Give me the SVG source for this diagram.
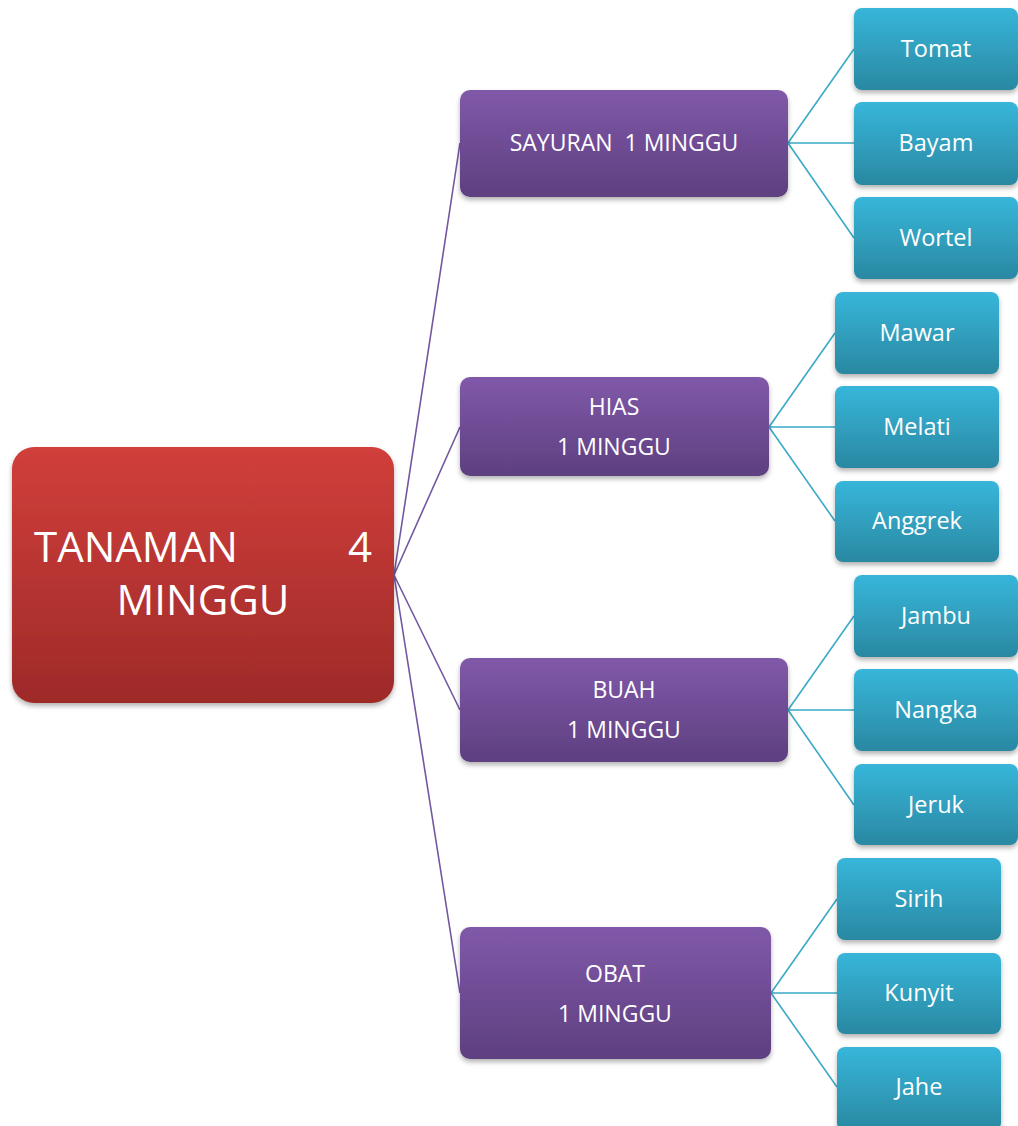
<svg xmlns="http://www.w3.org/2000/svg" width="1018" height="1126" viewBox="0 0 1018 1126">
<defs>
<linearGradient id="gRed" x1="0" y1="0" x2="0" y2="1"><stop offset="0" stop-color="#D13F3B"/><stop offset="1" stop-color="#9E2A28"/></linearGradient>
<linearGradient id="gPur" x1="0" y1="0" x2="0" y2="1"><stop offset="0" stop-color="#8059A9"/><stop offset="1" stop-color="#5E3F80"/></linearGradient>
<linearGradient id="gTeal" x1="0" y1="0" x2="0" y2="1"><stop offset="0" stop-color="#37B6DA"/><stop offset="1" stop-color="#2A88A2"/></linearGradient>
<filter id="sh" x="-10%" y="-10%" width="120%" height="130%"><feDropShadow dx="0" dy="3" stdDeviation="2.5" flood-color="#000" flood-opacity="0.3"/></filter>
<style>
.root{fill:url(#gRed);filter:url(#sh)}
.mid{fill:url(#gPur);filter:url(#sh)}
.leaf{fill:url(#gTeal);filter:url(#sh)}
text{font-family:"Open Sans","Liberation Sans",sans-serif;fill:#fff}
.t1{font-size:42px}
.t2{font-size:23px;text-anchor:middle}
.t3{font-size:23.5px;text-anchor:middle}
.cp{stroke:#7258A0;stroke-width:1.6;fill:none}
.ct{stroke:#3AAAC6;stroke-width:1.6;fill:none}
</style>
</defs>
<g id="connectors">
<path class="cp" d="M394 575L460 143M394 575L460 427M394 575L460 710M394 575L460 993"/>
<path class="ct" d="M788 143L854 49M788 143L854 143M788 143L854 238"/>
<path class="ct" d="M769 427L835 333M769 427L835 427M769 427L835 521"/>
<path class="ct" d="M788 710L854 616M788 710L854 710M788 710L854 805"/>
<path class="ct" d="M771 993L837 899M771 993L837 993M771 993L837 1087"/>
</g>
<g id="root"><rect class="root" x="12" y="447" width="382" height="256" rx="22"/>
<text class="t1" x="34" y="562">TANAMAN</text><text class="t1" x="372" y="562" text-anchor="end">4</text>
<text class="t1" x="203" y="615" text-anchor="middle">MINGGU</text></g>
<g id="sayuran"><rect class="mid" x="460" y="90" width="328" height="107" rx="10"/><text class="t2" x="624" y="151" xml:space="preserve">SAYURAN  1 MINGGU</text></g>
<g id="hias"><rect class="mid" x="460" y="377" width="309" height="99" rx="10"/><text class="t2" x="614" y="415">HIAS</text><text class="t2" x="614" y="455">1 MINGGU</text></g>
<g id="buah"><rect class="mid" x="460" y="658" width="328" height="104" rx="10"/><text class="t2" x="624" y="698">BUAH</text><text class="t2" x="624" y="738">1 MINGGU</text></g>
<g id="obat"><rect class="mid" x="460" y="927" width="311" height="132" rx="10"/><text class="t2" x="615" y="982">OBAT</text><text class="t2" x="615" y="1022">1 MINGGU</text></g>
<g id="tomat"><rect class="leaf" x="854" y="8" width="164" height="82" rx="8"/><text class="t3" x="936" y="57">Tomat</text></g>
<g id="bayam"><rect class="leaf" x="854" y="102" width="164" height="83" rx="8"/><text class="t3" x="936" y="151">Bayam</text></g>
<g id="wortel"><rect class="leaf" x="854" y="197" width="164" height="82" rx="8"/><text class="t3" x="936" y="246">Wortel</text></g>
<g id="mawar"><rect class="leaf" x="835" y="292" width="164" height="82" rx="8"/><text class="t3" x="917" y="341">Mawar</text></g>
<g id="melati"><rect class="leaf" x="835" y="386" width="164" height="82" rx="8"/><text class="t3" x="917" y="435">Melati</text></g>
<g id="anggrek"><rect class="leaf" x="835" y="481" width="164" height="81" rx="8"/><text class="t3" x="917" y="529">Anggrek</text></g>
<g id="jambu"><rect class="leaf" x="854" y="575" width="164" height="82" rx="8"/><text class="t3" x="936" y="624">Jambu</text></g>
<g id="nangka"><rect class="leaf" x="854" y="669" width="164" height="82" rx="8"/><text class="t3" x="936" y="718">Nangka</text></g>
<g id="jeruk"><rect class="leaf" x="854" y="764" width="164" height="81" rx="8"/><text class="t3" x="936" y="813">Jeruk</text></g>
<g id="sirih"><rect class="leaf" x="837" y="858" width="164" height="82" rx="8"/><text class="t3" x="919" y="907">Sirih</text></g>
<g id="kunyit"><rect class="leaf" x="837" y="953" width="164" height="81" rx="8"/><text class="t3" x="919" y="1001">Kunyit</text></g>
<g id="jahe"><rect class="leaf" x="837" y="1047" width="164" height="84" rx="8"/><text class="t3" x="919" y="1095">Jahe</text></g>
</svg>
